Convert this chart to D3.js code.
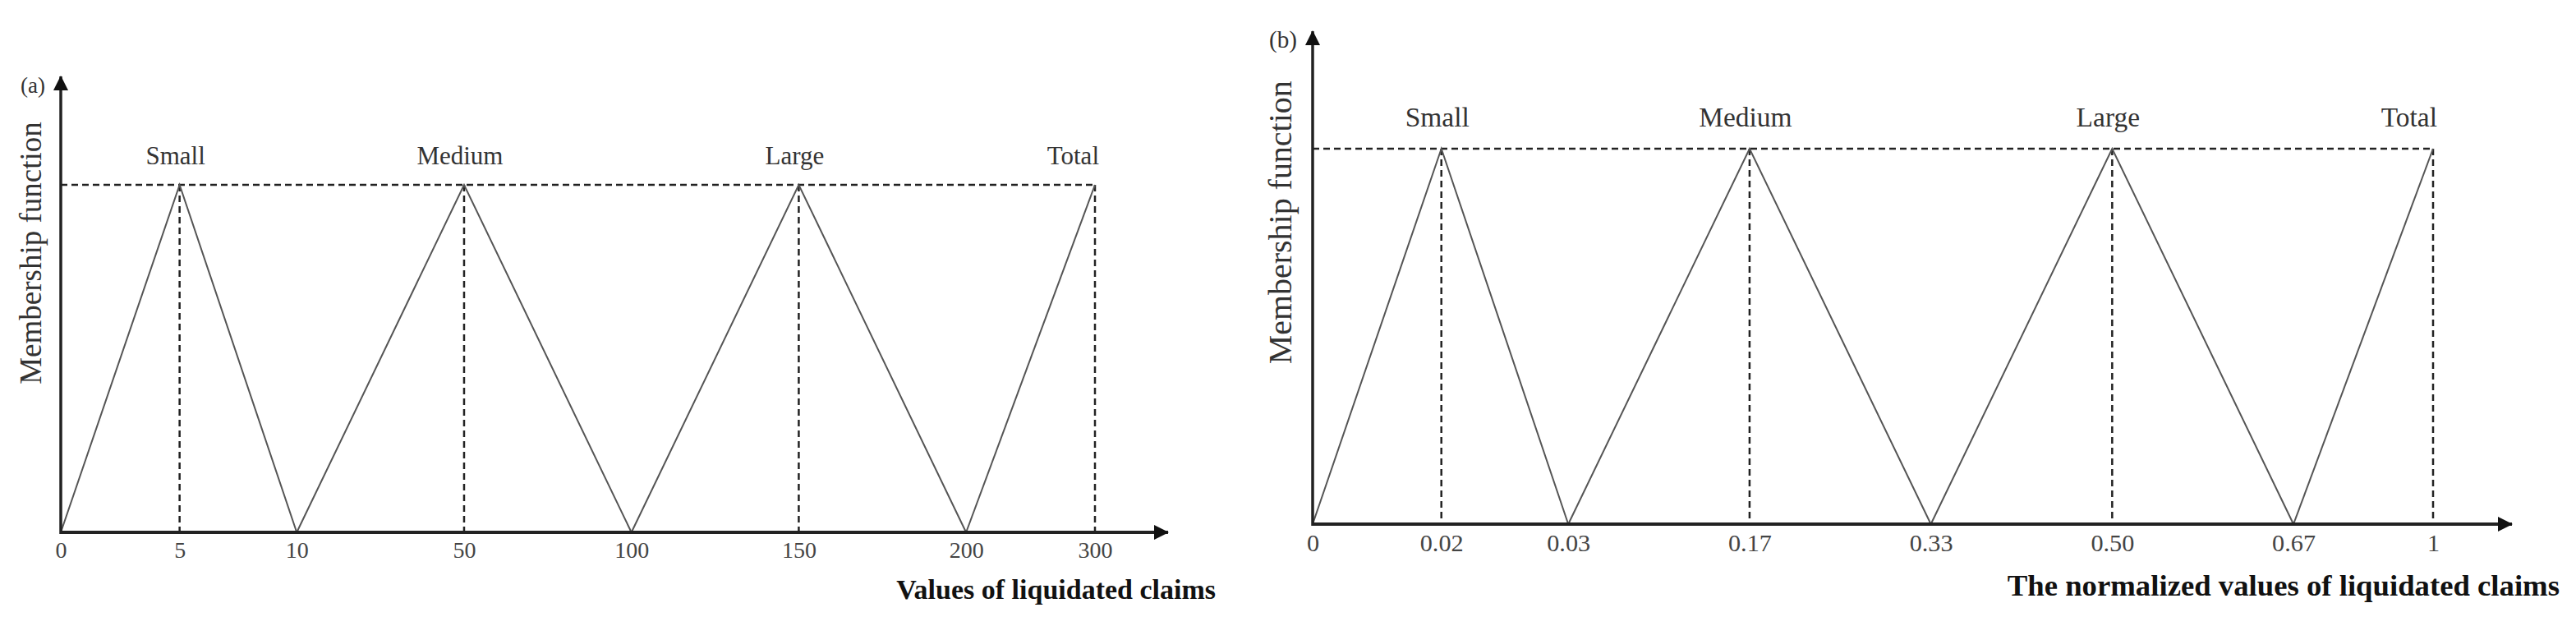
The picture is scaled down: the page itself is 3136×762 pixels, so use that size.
<!DOCTYPE html>
<html>
<head>
<meta charset="utf-8">
<script src="https://cdn.jsdelivr.net/npm/d3@7"></script>
<style>
  body { margin: 0; background: #fff; }
  text { font-family: "Liberation Serif", "DejaVu Serif", serif; }
</style>
</head>
<body>
<div class="chart"></div>
<script>
// fuzzy sets, shared by both panels
var setNames = ["Small", "Medium", "Large", "Total"];

// (a) raw values of liquidated claims
var claimTicks = [0, 5, 10, 50, 100, 150, 200, 300];
var claimTickLabels = ["0", "5", "10", "50", "100", "150", "200", "300"];
// triangle (left foot, peak, right foot) per set
var claimSets = [[0, 5, 10], [10, 50, 100], [100, 150, 200], [200, 300, 300]];

// (b) normalized values
var normTicks = [0, 0.02, 0.03, 0.17, 0.33, 0.50, 0.67, 1];
var normTickLabels = ["0", "0.02", "0.03", "0.17", "0.33", "0.50", "0.67", "1"];
var normSets = [[0, 0.02, 0.03], [0.03, 0.17, 0.33], [0.33, 0.50, 0.67], [0.67, 1, 1]];

// membership grade at foot / peak / foot
var grades = [0, 1, 0];

// layout: relative spacing between neighbouring ticks (axis is not to scale)
var tickGaps = [0.71, 0.70, 1, 1, 1, 1, 0.77];

var W = 3136, H = 762;

var svg = d3.select(".chart").append("svg")
    .attr("width", W)
    .attr("height", H)
    .attr("viewBox", "0 0 " + W + " " + H);

// arrowhead for the axes
svg.append("defs").append("marker")
    .attr("id", "arrow")
    .attr("viewBox", "0 0 18 18")
    .attr("refX", 17)
    .attr("refY", 9)
    .attr("markerWidth", 19)
    .attr("markerHeight", 18)
    .attr("markerUnits", "userSpaceOnUse")
    .attr("orient", "auto")
  .append("path")
    .attr("d", "M0,0 L18,9 L0,18 Z")
    .attr("fill", "#111");

function drawPanel(p) {
    var fs = p.fs;
    var g = svg.append("g").attr("class", "panel");

    // polylinear x: each tick gets its own slot along the axis
    var cum = [0];
    tickGaps.forEach(function(d, i) { cum.push(cum[i] + d); });
    var unit = (p.x1 - p.x0) / cum[cum.length - 1];
    var xScale = d3.scaleLinear()
        .domain(p.ticks)
        .range(cum.map(function(c) { return p.x0 + c * unit; }));
    var yScale = d3.scaleLinear().domain([0, 1]).range([p.y0, p.yPeak]);

    var peaks = p.sets.map(function(s) { return s[1]; });
    var lastPeak = peaks[peaks.length - 1];

    // dashed guides: top level line + drop lines from each peak
    g.append("line")
        .attr("x1", xScale(p.ticks[0])).attr("x2", xScale(lastPeak))
        .attr("y1", yScale(1)).attr("y2", yScale(1))
        .attr("stroke", "#222").attr("stroke-width", 2.5)
        .attr("stroke-dasharray", "8,5");

    g.selectAll(".drop")
        .data(peaks)
      .enter().append("line")
        .attr("class", "drop")
        .attr("x1", xScale).attr("x2", xScale)
        .attr("y1", yScale(1)).attr("y2", yScale(0))
        .attr("stroke", "#222").attr("stroke-width", 2.5)
        .attr("stroke-dasharray", "8,5");

    // triangular membership functions
    var line = d3.line()
        .x(function(d) { return xScale(d[0]); })
        .y(function(d) { return yScale(d[1]); });

    g.selectAll(".mf")
        .data(p.sets)
      .enter().append("path")
        .attr("class", "mf")
        .attr("d", function(s) {
            var pts = s.map(function(v, i) { return [v, grades[i]]; });
            if (s[1] === s[2]) pts.pop(); // last set only rises
            return line(pts);
        })
        .attr("fill", "none")
        .attr("stroke", "#555")
        .attr("stroke-width", 2);

    // axes with arrows
    g.append("line")
        .attr("x1", p.x0).attr("x2", p.xArrow)
        .attr("y1", p.y0).attr("y2", p.y0)
        .attr("stroke", "#222").attr("stroke-width", 4)
        .attr("marker-end", "url(#arrow)");
    g.append("line")
        .attr("x1", p.x0).attr("x2", p.x0)
        .attr("y1", p.y0 + 2).attr("y2", p.yArrow)
        .attr("stroke", "#222").attr("stroke-width", 3.5)
        .attr("marker-end", "url(#arrow)");

    // tick labels via d3 axis, no tick marks or domain
    var xAxis = d3.axisBottom(xScale)
        .tickValues(p.ticks)
        .tickSize(0)
        .tickFormat(function(d, i) { return p.tickLabels[i]; });
    var ax = g.append("g")
        .attr("transform", "translate(0," + p.y0 + ")")
        .call(xAxis);
    ax.select(".domain").remove();
    ax.selectAll(".tick text")
        .attr("y", 31 * fs)
        .attr("dy", 0)
        .style("font-family", "'Liberation Serif', serif")
        .style("font-size", (28 * fs) + "px")
        .attr("fill", "#444");

    // set names above peaks
    g.selectAll(".setname")
        .data(p.sets)
      .enter().append("text")
        .attr("class", "setname")
        .attr("x", function(s, i) { return xScale(s[1]) + (i === p.sets.length - 1 ? 5 : -5); })
        .attr("y", yScale(1) - 25 * fs)
        .attr("text-anchor", function(s, i) { return i === p.sets.length - 1 ? "end" : "middle"; })
        .style("font-size", (31 * fs) + "px")
        .attr("fill", "#333")
        .text(function(s, i) { return setNames[i]; });

    // panel tag
    g.append("text")
        .attr("x", p.x0 - 19)
        .attr("y", p.yArrow + 20)
        .attr("text-anchor", "end")
        .style("font-size", (27 * fs) + "px")
        .attr("fill", "#333")
        .text(p.tag);

    // y label
    g.append("text")
        .attr("transform", "translate(" + (p.x0 - 24 * fs) + "," + (p.y0 - 340 * fs) + ") rotate(-90)")
        .attr("text-anchor", "middle")
        .style("font-size", (37 * fs) + "px")
        .attr("fill", "#333")
        .text("Membership function");

    // x title
    g.append("text")
        .attr("x", p.xArrow + 58)
        .attr("y", p.y0 + 81 * fs)
        .attr("text-anchor", "end")
        .style("font-size", (34 * fs) + "px")
        .style("font-weight", "bold")
        .attr("fill", "#111")
        .text(p.title);
}

drawPanel({
    tag: "(a)", title: "Values of liquidated claims",
    ticks: claimTicks, tickLabels: claimTickLabels, sets: claimSets,
    x0: 74, x1: 1333, xArrow: 1422, y0: 648, yPeak: 225, yArrow: 93, fs: 1
});

drawPanel({
    tag: "(b)", title: "The normalized values of liquidated claims",
    ticks: normTicks, tickLabels: normTickLabels, sets: normSets,
    x0: 1598, x1: 2962, xArrow: 3058, y0: 638, yPeak: 181, yArrow: 38, fs: 1.08
});
</script>
</body>
</html>
